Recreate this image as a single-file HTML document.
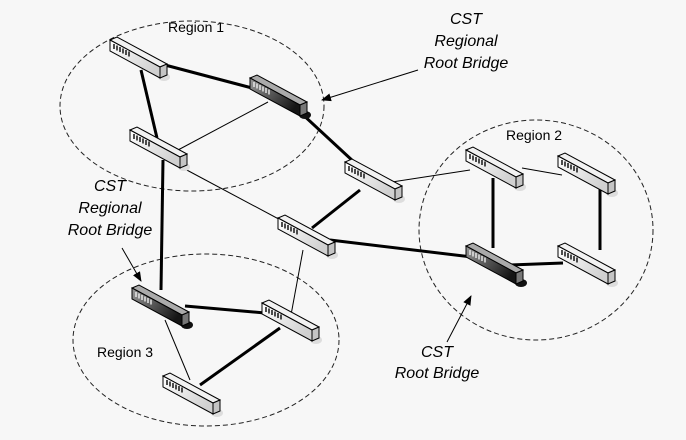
<!DOCTYPE html>
<html><head><style>
html,body{margin:0;padding:0;background:#f7f7f7;}
svg{display:block;}
text{font-family:"Liberation Sans",Arial,sans-serif;fill:#000;}
.cst{font-style:italic;font-size:16px;text-anchor:middle;}
.reg{font-size:14px;}
</style></head><body>
<svg width="686" height="440" viewBox="0 0 686 440" xmlns="http://www.w3.org/2000/svg">
<defs>
<linearGradient id="gl" x1="0" y1="0" x2="1" y2="0.6">
<stop offset="0" stop-color="#ffffff"/><stop offset="1" stop-color="#d0d0d0"/></linearGradient>
<linearGradient id="gd" x1="0" y1="0" x2="1" y2="0.6">
<stop offset="0" stop-color="#999"/><stop offset="1" stop-color="#151515"/></linearGradient>
<g id="sl">
<ellipse cx="54" cy="37" rx="6" ry="4" fill="#ddd"/>
<polygon points="0,0 7,-3 57,24 50,27" fill="#f2f2f2" stroke="#000" stroke-width="1"/>
<polygon points="0,0 50,27 50,38 0,11" fill="url(#gl)" stroke="#000" stroke-width="1"/>
<polygon points="50,27 57,24 57,35 50,38" fill="#c4c4c4" stroke="#000" stroke-width="1"/>
<path d="M4,4v5M7,5.5v5M10,7v5M13,8.5v5M16,10v5M19,11.5v5" stroke="#222" stroke-width="1.6"/>
</g>
<g id="sd">
<ellipse cx="55" cy="37" rx="6" ry="4" fill="#111"/>
<polygon points="0,0 7,-3 57,24 50,27" fill="#aaa" stroke="#000" stroke-width="1"/>
<polygon points="0,0 50,27 50,38 0,11" fill="url(#gd)" stroke="#000" stroke-width="1"/>
<polygon points="50,27 57,24 57,35 50,38" fill="#777" stroke="#000" stroke-width="1"/>
<path d="M4,4v5M7,5.5v5M10,7v5M13,8.5v5M16,10v5M19,11.5v5" stroke="#eee" stroke-width="1.4"/>
</g>
<marker id="ar" markerWidth="10" markerHeight="8" refX="9" refY="4" orient="auto" markerUnits="userSpaceOnUse">
<path d="M0,0L10,4L0,8z" fill="#000"/></marker>
</defs>
<g fill="none" stroke="#222" stroke-width="1" stroke-dasharray="5,3">
<ellipse cx="192" cy="106" rx="132" ry="85"/>
<ellipse cx="536" cy="230" rx="117" ry="110"/>
<ellipse cx="206" cy="340" rx="133" ry="86"/>
</g>
<g stroke="#000" stroke-width="1" fill="none">
<line x1="178" y1="150" x2="268" y2="102"/>
<line x1="183" y1="168" x2="288" y2="224"/>
<line x1="392" y1="182" x2="470" y2="170"/>
<line x1="522" y1="168" x2="562" y2="175"/>
<line x1="303" y1="250" x2="291" y2="315"/>
<line x1="165" y1="320" x2="190" y2="380"/>
</g>
<g stroke="#000" stroke-width="3" fill="none">
<line x1="165" y1="65" x2="252" y2="88"/>
<line x1="141" y1="70" x2="157" y2="138"/>
<line x1="163" y1="160" x2="161" y2="290"/>
<line x1="300" y1="112" x2="354" y2="162"/>
<line x1="360" y1="190" x2="312" y2="228"/>
<line x1="330" y1="240" x2="472" y2="257"/>
<line x1="510" y1="265" x2="563" y2="263"/>
<line x1="493" y1="178" x2="493" y2="248"/>
<line x1="600" y1="182" x2="600" y2="250"/>
<line x1="185" y1="306" x2="265" y2="313"/>
<line x1="200" y1="385" x2="280" y2="328"/>
</g>
<use href="#sl" x="110" y="40"/>
<use href="#sd" x="250" y="78"/>
<use href="#sl" x="130" y="130"/>
<use href="#sl" x="345" y="162"/>
<use href="#sl" x="278" y="218"/>
<use href="#sl" x="466" y="150"/>
<use href="#sl" x="558" y="156"/>
<use href="#sd" x="466" y="246"/>
<use href="#sl" x="558" y="246"/>
<use href="#sd" x="132" y="288"/>
<use href="#sl" x="262" y="303"/>
<use href="#sl" x="163" y="376"/>
<g stroke="#000" stroke-width="1" fill="none">
<line x1="418" y1="70" x2="322" y2="100" marker-end="url(#ar)"/>
<line x1="122" y1="248" x2="141" y2="281" marker-end="url(#ar)"/>
<line x1="447" y1="342" x2="471" y2="296" marker-end="url(#ar)"/>
</g>
<text class="reg" x="168" y="32">Region 1</text>
<text class="reg" x="506" y="140">Region 2</text>
<text class="reg" x="97" y="357">Region 3</text>
<text class="cst" x="466" y="24">CST</text>
<text class="cst" x="466" y="46">Regional</text>
<text class="cst" x="466" y="68">Root Bridge</text>
<text class="cst" x="110" y="191">CST</text>
<text class="cst" x="110" y="213">Regional</text>
<text class="cst" x="110" y="235">Root Bridge</text>
<text class="cst" x="437" y="357">CST</text>
<text class="cst" x="437" y="378">Root Bridge</text>
</svg>
</body></html>
